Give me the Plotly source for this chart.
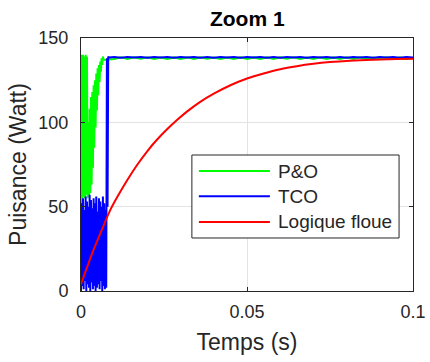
import plotly.graph_objects as go

# ---- P&O (green): start-up transient, 0.2 ms samples ----
t_po = [0.0000, 0.0002, 0.0004, 0.0006, 0.0008, 0.0010, 0.0012, 0.0014, 0.0016, 0.0018,
        0.0020, 0.0022, 0.0024, 0.0026, 0.0028, 0.0030, 0.0032, 0.0034, 0.0036, 0.0038,
        0.0040, 0.0042, 0.0044, 0.0046, 0.0048, 0.0050, 0.0052, 0.0054, 0.0056, 0.0058,
        0.0060, 0.0062, 0.0064, 0.0066, 0.0068]
p_po = [0, 140, 55, 140, 56, 139, 55, 140, 57, 139,
        55, 100, 56, 108, 58, 115, 63, 118, 73, 122,
        85, 125, 97, 129, 107, 132, 116, 134, 124, 136,
        130, 138, 134, 139, 137]

# ---- TCO (blue): start-up transient ----
t_tco = [0.0000, 0.0002, 0.0004, 0.0006, 0.0008, 0.0010, 0.0012, 0.0014, 0.0016, 0.0018,
         0.0020, 0.0022, 0.0024, 0.0026, 0.0028, 0.0030, 0.0032, 0.0034, 0.0036, 0.0038,
         0.0040, 0.0042, 0.0044, 0.0046, 0.0048, 0.0050, 0.0052, 0.0054, 0.0056, 0.0058,
         0.0060, 0.0062, 0.0064, 0.0066, 0.0068, 0.0070, 0.0072, 0.0074, 0.0076, 0.0078,
         0.0080, 0.0082, 0.0084]
p_tco = [0, 52, 3, 55, 1, 48, 6, 56, 0, 53,
         4, 50, 2, 57, 0, 54, 5, 49, 1, 55,
         3, 52, 0, 56, 2, 47, 4, 55, 1, 53,
         6, 50, 0, 56, 3, 52, 1, 48, 2, 138,
         50, 139, 138.4]

# ---- steady state (both MPPT methods), 2 ms samples ----
t_ss = [0.010, 0.012, 0.014, 0.016, 0.018, 0.020, 0.022, 0.024, 0.026, 0.028,
        0.030, 0.032, 0.034, 0.036, 0.038, 0.040, 0.042, 0.044, 0.046, 0.048,
        0.050, 0.052, 0.054, 0.056, 0.058, 0.060, 0.062, 0.064, 0.066, 0.068,
        0.070, 0.072, 0.074, 0.076, 0.078, 0.080, 0.082, 0.084, 0.086, 0.088,
        0.090, 0.092, 0.094, 0.096, 0.098, 0.100]
p_po_ss = [137.6, 138.6, 137.5, 138.5, 137.7, 138.6, 137.5, 138.4, 137.6, 138.5,
           137.6, 138.5, 137.5, 138.6, 137.7, 138.5, 137.6, 138.4, 137.5, 138.6,
           137.6, 138.5, 137.6, 138.5, 137.5, 138.5, 137.7, 138.6, 137.6, 138.4,
           137.5, 138.5, 137.6, 138.5, 137.6, 138.6, 137.5, 138.5, 137.7, 138.4,
           137.6, 138.5, 137.5, 138.5, 137.6, 138.1]
p_tco_ss = [138.8, 138.3, 138.8, 138.4, 138.8, 138.3, 138.7, 138.4, 138.8, 138.3,
            138.8, 138.4, 138.8, 138.3, 138.7, 138.3, 138.8, 138.4, 138.8, 138.3,
            138.8, 138.4, 138.7, 138.3, 138.8, 138.3, 138.8, 138.4, 138.8, 138.3,
            138.7, 138.4, 138.8, 138.3, 138.8, 138.3, 138.8, 138.4, 138.7, 138.3,
            138.8, 138.4, 138.8, 138.3, 138.8, 138.5]

# ---- Logique floue (red) ----
t_flc = [0.000, 0.002, 0.004, 0.006, 0.0087, 0.011, 0.014, 0.017, 0.020, 0.0228,
         0.026, 0.029, 0.032, 0.0358, 0.040, 0.045, 0.050, 0.055, 0.060, 0.065,
         0.070, 0.075, 0.081, 0.088, 0.095, 0.100]
p_flc = [4, 15, 25.5, 35, 47.5, 56, 66, 75, 83, 89.5,
         96, 101.5, 106.5, 112, 117, 122, 126, 129, 131.5, 133.3,
         134.7, 135.7, 136.5, 137.1, 137.5, 137.7]

series_names = ["P&O", "TCO", "Logique floue"]
series_colors = ["#00ff00", "#0000ff", "#ff0000"]

x_ticks = [0, 0.05, 0.1]
x_ticktext = ["0", "0.05", "0.1"]
y_ticks = [0, 50, 100, 150]
y_ticktext = ["0", "50", "100", "150"]

fig = go.Figure()
fig.add_trace(go.Scatter(x=t_po + t_ss, y=p_po + p_po_ss, mode="lines",
                         name=series_names[0], showlegend=False,
                         line=dict(color=series_colors[0], width=2)))
fig.add_trace(go.Scatter(x=t_tco + t_ss, y=p_tco + p_tco_ss, mode="lines",
                         name=series_names[1], showlegend=False,
                         line=dict(color=series_colors[1], width=2)))
fig.add_trace(go.Scatter(x=t_flc, y=p_flc, mode="lines", line_shape="spline",
                         name=series_names[2], showlegend=False,
                         line=dict(color=series_colors[2], width=2)))

axis_color = "#262626"
tick_font = dict(family="Liberation Sans, Arial, sans-serif", size=18, color=axis_color)
title_font = dict(family="Liberation Sans, Arial, sans-serif", size=23, color=axis_color)

fig.update_xaxes(range=[0, 0.1], tickvals=x_ticks, ticktext=x_ticktext,
                 automargin=False,
                 showgrid=True, gridcolor="#e3e3e3", gridwidth=1, zeroline=False,
                 showline=True, linecolor=axis_color, linewidth=1, mirror="ticks",
                 ticks="inside", ticklen=4, tickcolor=axis_color,
                 tickfont=tick_font, ticklabelstandoff=4,
                 title=dict(text="Temps (s)", font=title_font, standoff=13))
fig.update_yaxes(range=[0, 150], tickvals=y_ticks, ticktext=y_ticktext,
                 automargin=False,
                 showgrid=True, gridcolor="#e3e3e3", gridwidth=1, zeroline=False,
                 showline=True, linecolor=axis_color, linewidth=1, mirror="ticks",
                 ticks="inside", ticklen=4, tickcolor=axis_color,
                 tickfont=tick_font, ticklabelstandoff=8,
                 title=dict(text="Puisance (Watt)", font=title_font, standoff=5))

# legend box drawn in paper coordinates
legend_box = dict(x0=0.334, x1=0.958, y0=0.2095, y1=0.5375)
legend_rows = [0.474, 0.375, 0.273]
shapes = [dict(type="rect", xref="paper", yref="paper", layer="above",
               line=dict(color=axis_color, width=1), fillcolor="white", **legend_box)]
annotations = []
for name, color, yr in zip(series_names, series_colors, legend_rows):
    shapes.append(dict(type="line", xref="paper", yref="paper", layer="above",
                       x0=0.355, x1=0.569, y0=yr, y1=yr,
                       line=dict(color=color, width=2)))
    annotations.append(dict(xref="paper", yref="paper", x=0.588, y=yr,
                            xanchor="left", yanchor="middle", showarrow=False,
                            text=name,
                            font=dict(family="Liberation Sans, Arial, sans-serif",
                                      size=19, color=axis_color)))

fig.update_layout(
    width=430, height=362, autosize=False,
    margin=dict(l=81, r=17, t=38, b=71, autoexpand=False),
    paper_bgcolor="white", plot_bgcolor="white",
    title=dict(text="<b>Zoom 1</b>", x=0.575, xanchor="center",
               y=0.9475, yanchor="middle", automargin=False,
               font=dict(family="Liberation Sans, Arial, sans-serif", size=21, color="black")),
    shapes=shapes, annotations=annotations,
    showlegend=False,
)

fig.write_html("out.html")
